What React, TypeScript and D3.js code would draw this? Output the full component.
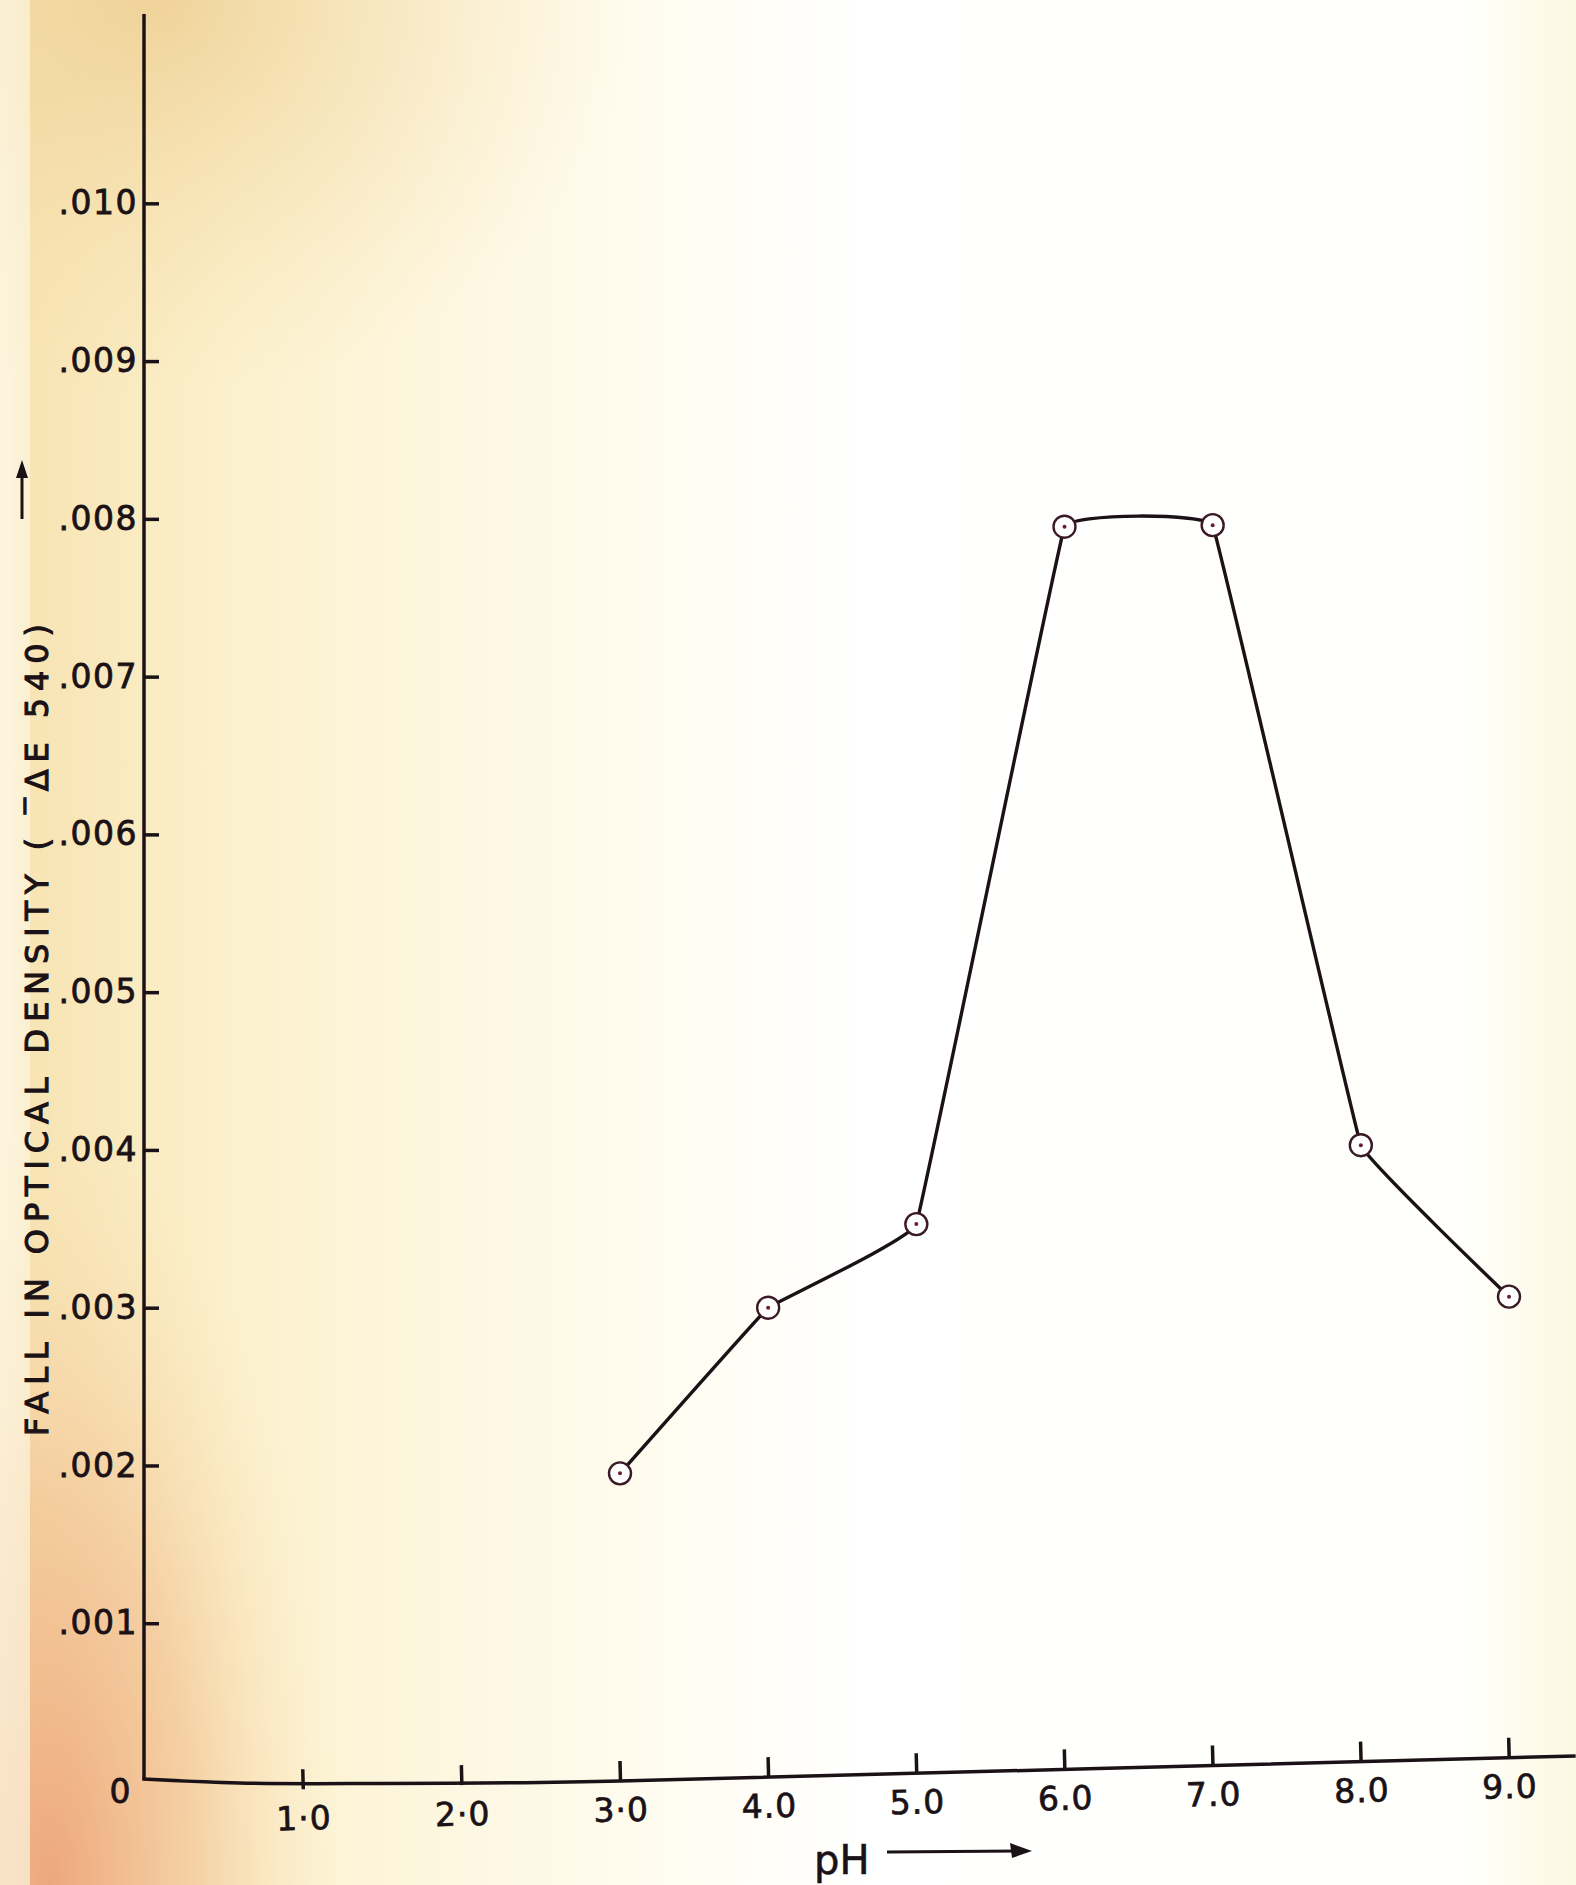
import { useEffect, useRef } from 'react'
import * as d3 from 'd3'

// pH against fall in optical density
const phValues = [3.0, 4.0, 5.0, 6.0, 7.0, 8.0, 9.0]
const densityFall = [0.00195, 0.0030, 0.00353, 0.00795, 0.00796, 0.00403, 0.00307]

const yTickValues = [0, 0.001, 0.002, 0.003, 0.004, 0.005, 0.006, 0.007, 0.008, 0.009, 0.010]
const yTickLabels = ['0', '.001', '.002', '.003', '.004', '.005', '.006', '.007', '.008', '.009', '.010']
const xTickValues = [1, 2, 3, 4, 5, 6, 7, 8, 9]
const xTickLabels = ['1·0', '2·0', '3·0', '4.0', '5.0', '6.0', '7.0', '8.0', '9.0']

const yTitle = 'FALL IN OPTICAL DENSITY ( ‾ΔE 540)'
const xTitle = 'pH'

const App = () => {
  const chartRef = useRef(null)

  useEffect(() => {
    const width = 1576
    const height = 1885
    const ink = '#1a1216'
    const font = '"DejaVu Sans", sans-serif'

    const svg = d3.select(chartRef.current)
    svg.selectAll('*').remove()
    svg.attr('width', width).attr('height', height)

    // paper
    const defs = svg.append('defs')
    const paper = defs.append('linearGradient').attr('id', 'paper')
    ;[
      [0, '#fcf5dc'], [0.018, '#f8e4b4'], [0.06, '#f9e8bc'], [0.15, '#fcf1cd'],
      [0.28, '#fdf7e0'], [0.42, '#fffcf0'], [0.55, '#ffffff'], [0.93, '#fffffb'], [1, '#fdf8e2']
    ].forEach(([o, c]) => paper.append('stop').attr('offset', o).attr('stop-color', c))
    const orange = defs.append('radialGradient').attr('id', 'orange')
      .attr('gradientUnits', 'userSpaceOnUse')
      .attr('cx', 50).attr('cy', height).attr('r', 760)
      .attr('gradientTransform', `translate(50,${height}) scale(0.38,1) translate(-50,${-height})`)
    orange.append('stop').attr('offset', 0).attr('stop-color', '#eca076').attr('stop-opacity', 0.9)
    orange.append('stop').attr('offset', 0.5).attr('stop-color', '#f0b888').attr('stop-opacity', 0.55)
    orange.append('stop').attr('offset', 1).attr('stop-color', '#f8dcae').attr('stop-opacity', 0)
    const tan = defs.append('radialGradient').attr('id', 'tan')
      .attr('cx', 0.1).attr('cy', 0).attr('r', 0.3)
      .attr('gradientTransform', 'translate(0.1,0) scale(1,0.7) translate(-0.1,0)')
    tan.append('stop').attr('offset', 0).attr('stop-color', '#ecca8c').attr('stop-opacity', 0.75)
    tan.append('stop').attr('offset', 1).attr('stop-color', '#f5dca8').attr('stop-opacity', 0)

    svg.append('rect').attr('width', width).attr('height', height).attr('fill', 'url(#paper)')
    svg.append('rect').attr('width', width).attr('height', height).attr('fill', 'url(#orange)')
    svg.append('rect').attr('width', width).attr('height', height).attr('fill', 'url(#tan)')
    svg.append('rect').attr('width', 30).attr('height', height).attr('fill', '#fcf5e0').attr('opacity', 0.7)

    const x = d3.scaleLinear().domain([0, 3, 9]).range([144, 620, 1509])
    const y = d3.scaleLinear().domain([0, 0.0112]).range([1781, 14])

    // y axis
    const yAxis = svg.append('g')
      .attr('transform', `translate(${x(0)},0)`)
      .call(d3.axisLeft(y)
        .tickValues(yTickValues)
        .tickSizeInner(-15)
        .tickSizeOuter(0)
        .tickPadding(6)
        .tickFormat((d, i) => yTickLabels[i]))
    yAxis.select('.domain').remove()
    yAxis.append('line')
      .attr('y1', y.range()[1]).attr('y2', y(0) - 2)
      .attr('stroke', ink).attr('stroke-width', 3.5)
    yAxis.selectAll('.tick line').attr('stroke', ink).attr('stroke-width', 3.5)
      .filter(d => d === 0).remove()
    yAxis.selectAll('.tick text')
      .attr('fill', ink).attr('font-family', font).attr('font-size', 33)
      .attr('stroke', ink).attr('stroke-width', 0.8)
      .attr('letter-spacing', 1.5)
    yAxis.selectAll('.tick').filter(d => d === 0).select('text')
      .attr('dx', -6).attr('dy', '0.65em')

    // x axis, drawn slightly askew as on the sheet
    const tilt = 1.5
    const slope = Math.tan(tilt * Math.PI / 180)
    const baseY = 1781
    const pivot = x(3)
    const xAxis = svg.append('g')
      .attr('transform', `translate(0,${baseY}) rotate(${-tilt},${pivot},0)`)
      .call(d3.axisBottom(x)
        .tickValues(xTickValues)
        .tickSizeInner(-20)
        .tickSizeOuter(0)
        .tickPadding(17)
        .tickFormat((d, i) => xTickLabels[i]))
    xAxis.select('.domain').remove()
    // the left end of the line runs level from the corner, then follows the tilt
    const level = (px, gy) => gy - (baseY + (pivot - px) * slope)
    xAxis.append('path')
      .attr('d', d3.line().curve(d3.curveMonotoneX)([
        [x(0) - 1.5, level(x(0), y(0) - 2)],
        [x(0.6), level(x(0.6), y(0) + 2)],
        [x(1.5), level(x(1.5), y(0) + 2.5)],
        [x(3), 0],
        [width, 0]
      ]))
      .attr('fill', 'none').attr('stroke', ink).attr('stroke-width', 3.5)
    xAxis.selectAll('.tick line').attr('stroke', ink).attr('stroke-width', 3.5)
    xAxis.selectAll('.tick text')
      .attr('fill', ink).attr('font-family', font).attr('font-size', 33)
      .attr('stroke', ink).attr('stroke-width', 0.7)
      .attr('letter-spacing', 1)

    // titles
    svg.append('text')
      .attr('transform', `translate(48,1030) rotate(-90)`)
      .attr('text-anchor', 'middle')
      .attr('font-family', font).attr('font-size', 32)
      .attr('stroke', ink).attr('stroke-width', 1.1)
      .attr('fill', ink)
      .attr('textLength', 812).attr('lengthAdjust', 'spacing')
      .text(yTitle)
    svg.append('line')
      .attr('x1', 22).attr('x2', 22).attr('y1', 519).attr('y2', 472)
      .attr('stroke', ink).attr('stroke-width', 3)
    svg.append('path').attr('d', 'M22,460 L16,478 L28,478 Z').attr('fill', ink)

    svg.append('text')
      .attr('x', 814).attr('y', 1874)
      .attr('font-family', font).attr('font-size', 40)
      .attr('stroke', ink).attr('stroke-width', 0.6)
      .attr('fill', ink)
      .text(xTitle)
    svg.append('line')
      .attr('x1', 887).attr('x2', 1018).attr('y1', 1852).attr('y2', 1851)
      .attr('stroke', ink).attr('stroke-width', 3)
    svg.append('path').attr('d', 'M1032,1851 L1010,1843 L1012,1858 Z').attr('fill', ink)

    // curve
    const points = phValues.map((p, i) => [p, densityFall[i]])
    const line = d3.line()
      .x(d => x(d[0]))
      .y(d => y(d[1]))
      .curve(d3.curveCardinal.tension(0.88))

    svg.append('path')
      .datum(points)
      .attr('d', line)
      .attr('fill', 'none')
      .attr('stroke', ink)
      .attr('stroke-width', 3.4)
      .attr('stroke-linejoin', 'round')

    const marks = svg.append('g')
      .selectAll('g')
      .data(points)
      .join('g')
      .attr('transform', d => `translate(${x(d[0])},${y(d[1])})`)
    marks.append('circle')
      .attr('r', 11)
      .attr('fill', '#ffffff')
      .attr('stroke', '#3a1a26')
      .attr('stroke-width', 2.4)
    marks.append('circle')
      .attr('r', 2)
      .attr('fill', '#6a1f2c')
  }, [])

  return <svg ref={chartRef} style={{ position: 'absolute', left: 0, top: 0 }}></svg>
}

export default App
